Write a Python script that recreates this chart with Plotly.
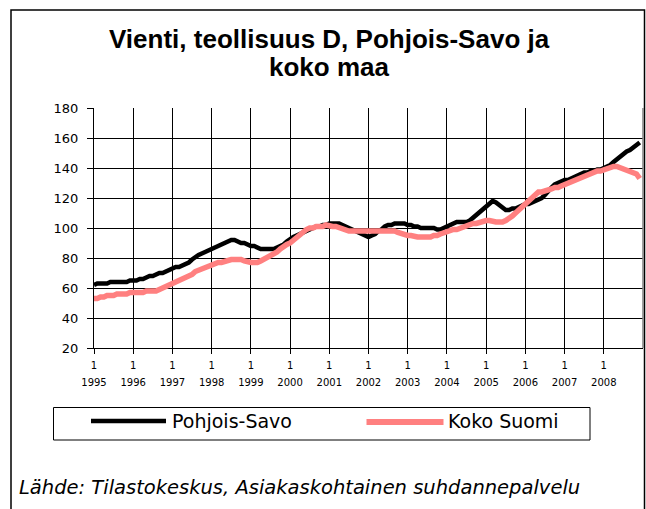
import plotly.graph_objects as go

# ---- data (monthly index, Jan 1995 .. Dec 2008) ----
years = [str(y) for y in range(1995, 2009)]
months = [f"{y}-{m:02d}" for y in range(1995, 2009) for m in range(1, 13)]

pohjois_savo = [
    62, 63, 63, 63, 63, 64, 64, 64, 64, 64, 64, 65,            # 1995
    65, 65, 66, 66, 67, 68, 68, 69, 70, 70, 71, 72,            # 1996
    73, 74, 74, 75, 76, 77, 79, 81, 82, 83, 84, 85,            # 1997
    86, 87, 88, 89, 90, 91, 92, 92, 91, 90, 90, 89,            # 1998
    88, 88, 87, 86, 86, 86, 86, 86, 87, 88, 89, 91,            # 1999
    93, 94, 95, 96, 97, 98, 99, 100, 101, 101, 102, 102,       # 2000
    103, 103, 103, 103, 102, 101, 100, 99, 98, 97, 96, 95,     # 2001
    94, 95, 96, 98, 99, 101, 102, 102, 103, 103, 103, 103,     # 2002
    102, 102, 101, 101, 100, 100, 100, 100, 100, 99, 99, 100,  # 2003
    101, 102, 103, 104, 104, 104, 104, 105, 107, 109, 111, 113,  # 2004
    115, 117, 118, 117, 115, 113, 112, 112, 113, 113, 114, 115,  # 2005
    116, 116, 117, 118, 119, 120, 122, 125, 127, 129, 130, 131,  # 2006
    132, 132, 133, 134, 135, 136, 137, 137, 138, 138, 139, 139,  # 2007
    140, 141, 142, 144, 146, 148, 149, 151, 152, 154, 155, 157,  # 2008
]

koko_suomi = [
    53, 53, 54, 54, 55, 55, 55, 56, 56, 56, 56, 57,            # 1995
    57, 57, 57, 57, 58, 58, 58, 58, 59, 60, 61, 62,            # 1996
    62, 63, 64, 66, 67, 68, 69, 71, 72, 73, 74, 75,            # 1997
    76, 76, 77, 77, 78, 78, 79, 79, 79, 79, 78, 77,            # 1998
    77, 77, 77, 78, 79, 80, 82, 83, 84, 86, 88, 89,            # 1999
    90, 92, 94, 96, 97, 99, 100, 100, 101, 101, 101, 102,      # 2000
    101, 101, 101, 100, 100, 99, 98, 98, 98, 98, 98, 98,       # 2001
    98, 98, 98, 98, 98, 98, 98, 98, 98, 97, 96, 95,            # 2002
    95, 95, 94, 94, 94, 94, 94, 94, 95, 95, 96, 97,            # 2003
    98, 98, 99, 99, 100, 101, 102, 102, 103, 103, 104, 104,    # 2004
    105, 105, 104, 104, 104, 104, 105, 106, 108, 110, 112, 114,  # 2005
    116, 119, 121, 123, 124, 124, 125, 125, 126, 127, 127, 128,  # 2006
    129, 130, 131, 131, 132, 133, 135, 135, 136, 137, 138, 138,  # 2007
    139, 140, 140, 141, 141, 140, 140, 139, 138, 137, 136, 133,  # 2008
]

title_lines = ["Vienti, teollisuus D, Pohjois-Savo ja", "koko maa"]
series_names = ["Pohjois-Savo", "Koko Suomi"]
source_text = "Lähde: Tilastokeskus, Asiakaskohtainen suhdannepalvelu"

x_idx = list(range(len(months)))
year_ticks = [i for i, m in enumerate(months) if m.endswith("-01")]

W, H = 646, 509
L, R, T, B = 94, 3, 108, 161
PW, PH = W - L - R, H - T - B


def px(x):
    return (x - L) / PW


def py(y):
    return (H - B - y) / PH


BLACK = "#000000"
PINK = "#FF8080"

fig = go.Figure()
fig.add_trace(go.Scatter(x=x_idx, y=pohjois_savo, mode="lines", name=series_names[0],
                         line=dict(color=BLACK, width=4.5), showlegend=False,
                         customdata=months, hovertemplate="%{customdata}: %{y}<extra></extra>"))
fig.add_trace(go.Scatter(x=x_idx, y=koko_suomi, mode="lines", name=series_names[1],
                         line=dict(color=PINK, width=5.5), showlegend=False,
                         customdata=months, hovertemplate="%{customdata}: %{y}<extra></extra>"))
# invisible carrier so the year-label axis is drawn
fig.add_trace(go.Scatter(x=x_idx, y=pohjois_savo, xaxis="x2", yaxis="y", mode="lines",
                         line=dict(width=0, color="rgba(0,0,0,0)"), opacity=0,
                         showlegend=False, hoverinfo="skip"))

tick_font = dict(family="DejaVu Sans", size=10, color="black")

fig.update_layout(
    width=W, height=H,
    margin=dict(l=L, r=R, t=T, b=B, pad=0),
    paper_bgcolor="white", plot_bgcolor="white",
    xaxis=dict(range=[0, 168], tickmode="array", tickvals=year_ticks,
               ticktext=["1"] * len(year_ticks), tickfont=tick_font,
               ticks="outside", ticklen=5, tickcolor="black",
               showgrid=True, gridcolor="black", gridwidth=1,
               showline=True, linecolor="black", linewidth=1,
               zeroline=False, ticklabelstandoff=3),
    xaxis2=dict(range=[0, 168], overlaying="x", anchor="y", side="bottom",
                tickmode="array", tickvals=year_ticks, ticktext=years,
                tickfont=tick_font, ticks="", showgrid=False, showline=False,
                zeroline=False, ticklabelstandoff=27),
    yaxis=dict(range=[20, 180], tickmode="linear", tick0=20, dtick=20,
               tickfont=dict(family="DejaVu Sans", size=13, color="black"),
               ticks="outside", ticklen=6, tickcolor="black",
               showgrid=True, gridcolor="black", gridwidth=1,
               showline=True, linecolor="black", linewidth=1,
               zeroline=False, ticklabelstandoff=6),
)

shapes = []
# outer frame
shapes.append(dict(type="rect", xref="paper", yref="paper",
                   x0=px(11), x1=px(644.5), y0=py(530), y1=py(10),
                   line=dict(color="black", width=1.5), layer="below"))
# right border of plot area
shapes.append(dict(type="line", xref="paper", yref="paper",
                   x0=1, x1=1, y0=0, y1=1, line=dict(color="#808080", width=1.5)))
# legend box
shapes.append(dict(type="rect", xref="paper", yref="paper",
                   x0=px(53.5), x1=px(590), y0=py(440), y1=py(407.5),
                   line=dict(color="black", width=1)))
# legend samples
shapes.append(dict(type="line", xref="paper", yref="paper",
                   x0=px(91), x1=px(166), y0=py(421), y1=py(421),
                   line=dict(color=BLACK, width=4.5)))
shapes.append(dict(type="line", xref="paper", yref="paper",
                   x0=px(366.5), x1=px(443.5), y0=py(422), y1=py(422),
                   line=dict(color=PINK, width=6)))

annotations = [
    dict(text="<b>" + title_lines[0] + "</b>", xref="paper", yref="paper",
         x=px(329), y=py(39), xanchor="center", yanchor="middle", showarrow=False,
         font=dict(family="Liberation Sans, Arial", size=26, color="black")),
    dict(text="<b>" + title_lines[1] + "</b>", xref="paper", yref="paper",
         x=px(329), y=py(67), xanchor="center", yanchor="middle", showarrow=False,
         font=dict(family="Liberation Sans, Arial", size=26, color="black")),
    dict(text=series_names[0], xref="paper", yref="paper",
         x=px(170), y=py(421), xanchor="left", yanchor="middle", showarrow=False,
         font=dict(family="DejaVu Sans", size=19, color="black")),
    dict(text=series_names[1], xref="paper", yref="paper",
         x=px(446), y=py(421), xanchor="left", yanchor="middle", showarrow=False,
         font=dict(family="DejaVu Sans", size=19, color="black")),
    dict(text="<i>" + source_text + "</i>", xref="paper", yref="paper",
         x=px(17), y=py(487), xanchor="left", yanchor="middle", showarrow=False,
         font=dict(family="DejaVu Sans", size=19.5, color="black")),
]

fig.update_layout(shapes=shapes, annotations=annotations)
fig.write_html("out.html",
               config={"displayModeBar": False},
               post_script="document.body.style.margin='0';document.body.style.padding='0';")
